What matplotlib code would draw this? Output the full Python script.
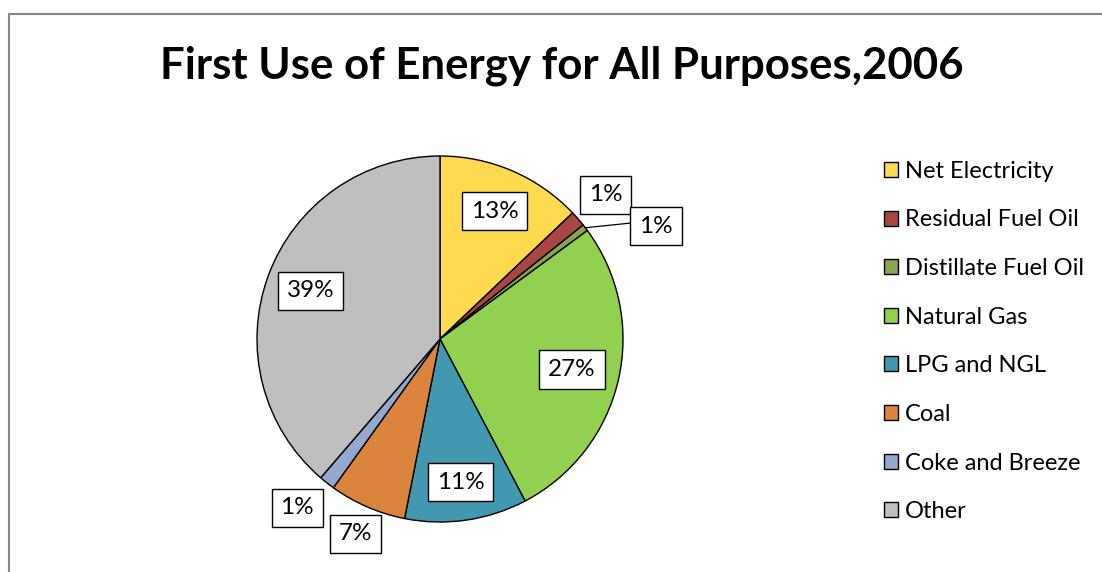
import numpy as np
import matplotlib
matplotlib.use("Agg")
import matplotlib.pyplot as plt
from matplotlib.patches import Rectangle

plt.rcParams['font.family'] = ['Lato', 'DejaVu Sans']

# share of first use of energy, percent
sources = ["Net Electricity", "Residual Fuel Oil", "Distillate Fuel Oil", "Natural Gas",
           "LPG and NGL", "Coal", "Coke and Breeze", "Other"]
shares = [12.9, 1.4, 0.6, 27.4, 10.8, 6.8, 1.4, 38.7]
colors = ["#FFD94F", "#AA4643", "#89A54E", "#92D050", "#4198AF", "#DB843D", "#93A9CF", "#BFBFBF"]

# radial distance of each label from the centre
label_r = [0.76, 1.20, 1.33, 0.74, 0.79, 1.16, 1.21, 0.756]
# labels moved off their slice's mid line (index -> x, y)
moved = {2: (1.18, 0.617), 6: (-0.781, -0.923)}

fig = plt.figure(figsize=(11.02, 5.72), dpi=100)

# outer chart border
fig.patches.append(Rectangle((8.5 / 1102, -0.1), 1.2, 1 - 13.5 / 572 + 0.1,
                             transform=fig.transFigure, fill=False,
                             edgecolor="#868686", linewidth=1.5))

fig.text(562 / 1102, 1 - 66 / 572, "First Use of Energy for All Purposes,2006",
         ha="center", va="center", fontsize=31.5, fontweight="bold")

ax = fig.add_axes([257 / 1102, 50 / 572, 366 / 1102, 366 / 572])
wedges, _ = ax.pie(shares, colors=colors, startangle=90, counterclock=False,
                   wedgeprops=dict(edgecolor="black", linewidth=1.0))
ax.set_xlim(-1, 1)
ax.set_ylim(-1, 1)
ax.set_aspect("equal")

box = dict(boxstyle="square,pad=0.36", facecolor="white", edgecolor="black", linewidth=1.0)
for i, (w, s) in enumerate(zip(wedges, shares)):
    mid = np.deg2rad((w.theta1 + w.theta2) / 2)
    if i in moved:
        pos = moved[i]
    else:
        pos = (label_r[i] * np.cos(mid), label_r[i] * np.sin(mid))
    if i == 2:
        # thin slice gets a leader line out to its label
        ax.plot([np.cos(mid), 1.075], [np.sin(mid), 0.637], color="black", lw=0.9, clip_on=False)
    ax.text(pos[0], pos[1], f"{s:.0f}%", ha="center", va="center", fontsize=17.5,
            bbox=box, clip_on=False)

leg = fig.legend(wedges, sources, loc="upper left", bbox_to_anchor=(872 / 1102, 1 - 149 / 572),
                 frameon=False, fontsize=17, handlelength=0.6, handleheight=0.6,
                 handletextpad=0.3, labelspacing=1.17, borderpad=0)

fig.savefig("out.png", dpi=100)
